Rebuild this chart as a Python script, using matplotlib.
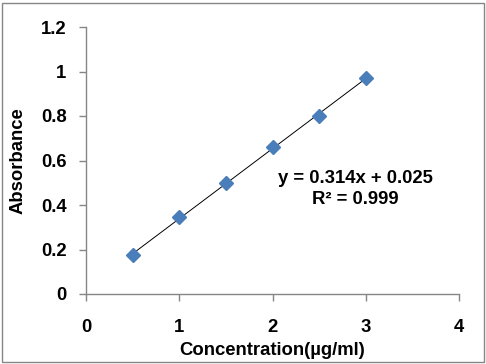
import numpy as np
import matplotlib
matplotlib.use("Agg")
import matplotlib.pyplot as plt
from matplotlib.patches import Rectangle

conc = [0.5, 1.0, 1.5, 2.0, 2.5, 3.0]
absorb = [0.175, 0.344, 0.497, 0.661, 0.800, 0.971]
xticks = [0, 1, 2, 3, 4]
yticks = [0, 0.2, 0.4, 0.6, 0.8, 1.0, 1.2]
ytick_labels = ["0", "0.2", "0.4", "0.6", "0.8", "1", "1.2"]
eq_line1 = "y = 0.314x + 0.025"
eq_line2 = "R² = 0.999"

plt.rcParams['font.family'] = ['Liberation Sans', 'DejaVu Sans']
plt.rcParams['font.weight'] = 'bold'
FS = 13.3

fig = plt.figure(figsize=(4.86, 3.64), dpi=100)
fig.patches.append(Rectangle((2/486, 2/364), 482/486, 359/364, transform=fig.transFigure,
                             fill=False, edgecolor='#868686', linewidth=1.0))
ax = fig.add_axes([86/486, 1-294/364, (459-86)/486, (294-27)/364])

slope, intercept = np.polyfit(conc, absorb, 1)
xs = np.array([conc[0], conc[-1]])
ax.plot(xs, slope*xs + intercept, color='black', linewidth=0.7, zorder=2)
ax.plot(conc, absorb, linestyle='none', marker='D', markersize=7.4,
        color='#4A7EBB', markeredgecolor='#4A7EBB', zorder=3)

ax.set_xlim(0, 4)
ax.set_ylim(0, 1.2)
ax.set_xticks(xticks)
ax.set_yticks(yticks)
ax.set_yticklabels(ytick_labels)
for s in ['top', 'right']:
    ax.spines[s].set_visible(False)
for s in ['left', 'bottom']:
    ax.spines[s].set_color('#868686')
    ax.spines[s].set_linewidth(1.0)
ax.tick_params(axis='both', direction='out', length=5, width=1.0, color='#868686',
               labelsize=FS)
ax.tick_params(axis='x', pad=13)
ax.tick_params(axis='y', pad=9)
for lab in ax.get_xticklabels() + ax.get_yticklabels():
    lab.set_fontweight('bold')

ax.set_xlabel('Concentration(µg/ml)', fontsize=FS, fontweight='bold', labelpad=4)
ax.set_ylabel('Absorbance', fontsize=FS, fontweight='bold', labelpad=10)

ax.text(2.885, 0.499, eq_line1, ha='center', va='baseline', fontsize=FS, fontweight='bold')
ax.text(2.885, 0.404, eq_line2, ha='center', va='baseline', fontsize=FS, fontweight='bold')

fig.savefig('out.png', dpi=100)
